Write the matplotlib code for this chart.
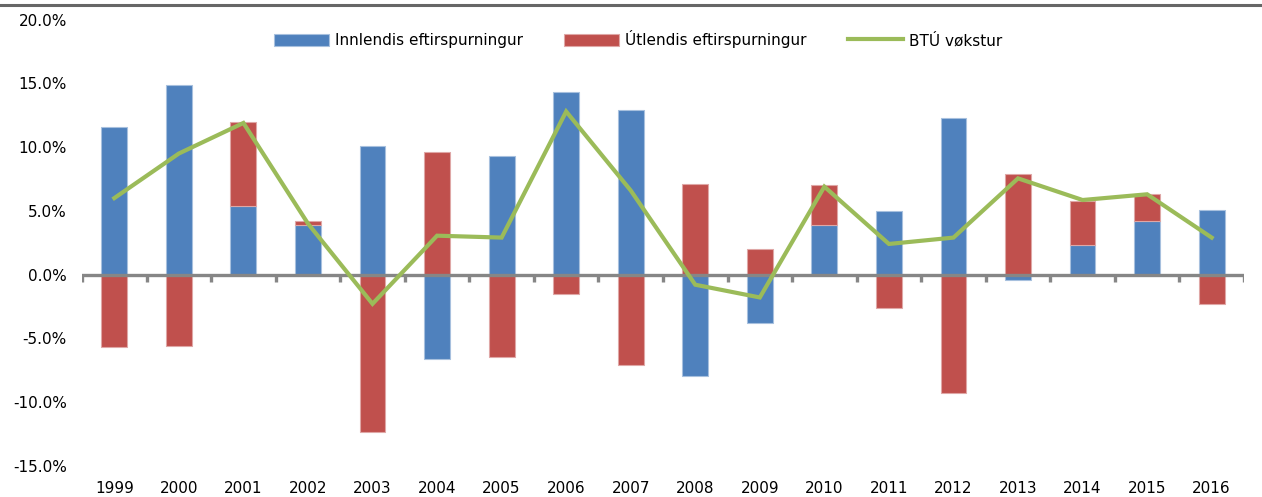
import numpy as np
import matplotlib.pyplot as plt
from matplotlib.lines import Line2D
from matplotlib.ticker import FuncFormatter

# Vøkstur og íkast (%)
years = ['1999', '2000', '2001', '2002', '2003', '2004', '2005', '2006', '2007',
         '2008', '2009', '2010', '2011', '2012', '2013', '2014', '2015', '2016']
innlendis = [11.6, 14.9, 5.4, 3.9, 10.1, -6.6, 9.3, 14.3, 12.9,
             -8.0, -3.8, 3.9, 5.0, 12.3, -0.4, 2.3, 4.2, 5.1]
utlendis = [-5.7, -5.6, 6.55, 0.3, -12.4, 9.65, -6.5, -1.5, -7.1,
            7.1, 2.0, 3.1, -2.6, -9.3, 7.9, 3.5, 2.1, -2.3]
btu = [6.0, 9.5, 11.9, 4.0, -2.3, 3.05, 2.9, 12.8, 6.6,
       -0.8, -1.8, 6.9, 2.4, 2.9, 7.55, 5.85, 6.3, 2.9]

blue = '#4F81BD'
red = '#C0504D'
green = '#9BBB59'

x = np.arange(len(years))
inn = np.array(innlendis)
utl = np.array(utlendis)
# Excel-style stacking: same sign stacks on top, opposite sign starts at zero
bottom_utl = np.where(np.sign(inn) == np.sign(utl), inn, 0.0)

fig = plt.figure(figsize=(12.62, 4.97), dpi=100)
ax = fig.add_axes([0.065, 0.0632, 0.9207, 0.897])

b1 = ax.bar(x, inn, width=0.4, color=blue, edgecolor='#A7C0DE', linewidth=0.8,
            label='Innlendis eftirspurningur', zorder=2)
b2 = ax.bar(x, utl, width=0.4, bottom=bottom_utl, color=red, edgecolor='#DFA7A6',
            linewidth=0.8, label='Útlendis eftirspurningur', zorder=2)
l1, = ax.plot(x, btu, color=green, linewidth=3, label='BTÚ vøkstur', zorder=4,
              solid_joinstyle='miter')

# zero axis with category separator ticks
ax.axhline(0, color='#868686', linewidth=2.4, zorder=3)
edges = np.arange(len(years) + 1) - 0.5
ax.vlines(edges, -0.55, 0, color='#868686', linewidth=2.4, zorder=3)

ax.set_xlim(-0.5, len(years) - 0.5)
ax.set_ylim(-15, 20)
ax.set_yticks(np.arange(-15, 21, 5))
ax.yaxis.set_major_formatter(FuncFormatter(lambda v, p: f'{v:.1f}%'))
ax.set_xticks(x)
ax.set_xticklabels(years)
ax.tick_params(axis='both', length=0, labelsize=11, colors='black')
ax.tick_params(axis='y', pad=11)
ax.tick_params(axis='x', pad=11)
for s in ax.spines.values():
    s.set_visible(False)

fig.legend(handles=[b1, b2, l1], loc='center', bbox_to_anchor=(0.5055, 0.9215),
           ncol=3, frameon=False, fontsize=11, handlelength=3.6, handleheight=0.85,
           handletextpad=0.4, columnspacing=2.7, borderpad=0)

# cut-off title border at the top
fig.add_artist(Line2D([0, 1], [1 - 5 / 497, 1 - 5 / 497], color='#666666',
                      linewidth=2.2, transform=fig.transFigure))

fig.savefig('out.png', dpi=100)
